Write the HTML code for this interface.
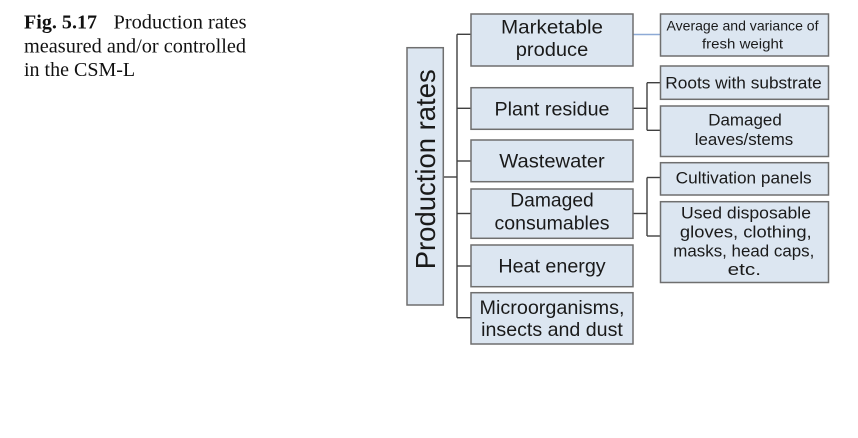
<!DOCTYPE html>
<html>
<head>
<meta charset="utf-8">
<style>
  html, body { margin: 0; padding: 0; background: #ffffff; }
  body { width: 858px; height: 438px; overflow: hidden; }
  svg { display: block; }
  .cap { font-family: "Liberation Serif", "Times New Roman", serif; font-size: 20px; fill: #111; }
  .lt { font-family: "Liberation Sans", Arial, sans-serif; font-size: 19.5px; fill: #1a1a1a; }
  .rt { font-family: "Liberation Sans", Arial, sans-serif; font-size: 17px; fill: #1a1a1a; }
  .box { fill: #dce6f1; stroke: #6f6f6f; stroke-width: 1.5; }
  .ln { stroke: #404040; stroke-width: 1.4; fill: none; }
</style>
</head>
<body>
<svg width="858" height="438" viewBox="0 0 858 438" xmlns="http://www.w3.org/2000/svg">
  <rect x="0" y="0" width="858" height="438" fill="#ffffff"/>

  <!-- Caption -->
  <text class="cap" x="24" y="28.5"><tspan font-weight="bold" textLength="73">Fig. 5.17</tspan></text>
  <text class="cap" x="113.5" y="28.5" textLength="133" lengthAdjust="spacingAndGlyphs">Production rates</text>
  <text class="cap" x="24" y="52.5" textLength="222" lengthAdjust="spacingAndGlyphs">measured and/or controlled</text>
  <text class="cap" x="24" y="76">in the CSM-L</text>

  <!-- Connectors -->
  <line class="ln" x1="443.3" y1="177" x2="457" y2="177" stroke-width="2"/>
  <line class="ln" x1="457" y1="34.3" x2="457" y2="317.7"/>
  <line class="ln" x1="457" y1="34.3" x2="471" y2="34.3" stroke="#7a7a7a"/>
  <line class="ln" x1="457" y1="108.3" x2="471" y2="108.3"/>
  <line class="ln" x1="457" y1="161" x2="471" y2="161" stroke="#6a6a6a"/>
  <line class="ln" x1="457" y1="213.5" x2="471" y2="213.5"/>
  <line class="ln" x1="457" y1="266" x2="471" y2="266" stroke="#8a8a8a"/>
  <line class="ln" x1="457" y1="317.7" x2="471" y2="317.7"/>

  <!-- Marketable -> Average -->
  <line x1="633" y1="34.5" x2="660.5" y2="34.5" stroke="#8eaad6" stroke-width="1.5"/>

  <!-- Plant residue branch -->
  <line class="ln" x1="633" y1="108.3" x2="647" y2="108.3"/>
  <line class="ln" x1="647" y1="82.7" x2="647" y2="130.3"/>
  <line class="ln" x1="647" y1="82.7" x2="661" y2="82.7"/>
  <line class="ln" x1="647" y1="130.3" x2="661" y2="130.3"/>

  <!-- Damaged consumables branch -->
  <line class="ln" x1="633" y1="213.5" x2="647" y2="213.5"/>
  <line class="ln" x1="647" y1="177.5" x2="647" y2="236"/>
  <line class="ln" x1="647" y1="177.5" x2="661" y2="177.5"/>
  <line class="ln" x1="647" y1="236" x2="661" y2="236"/>

  <!-- Production rates box -->
  <rect class="box" x="407" y="47.7" width="36.3" height="257.3"/>
  <text class="lt" transform="translate(435,169.3) rotate(-90)" text-anchor="middle" style="font-size:27.5px" textLength="200" lengthAdjust="spacingAndGlyphs">Production rates</text>

  <!-- Left column boxes -->
  <rect class="box" x="471" y="14" width="162" height="52"/>
  <text class="lt" x="552" y="33.5" text-anchor="middle" textLength="102" lengthAdjust="spacingAndGlyphs">Marketable</text>
  <text class="lt" x="552" y="56" text-anchor="middle" textLength="72.5" lengthAdjust="spacingAndGlyphs">produce</text>

  <rect class="box" x="471" y="87.7" width="162" height="41.6"/>
  <text class="lt" x="552" y="115.5" text-anchor="middle" textLength="115" lengthAdjust="spacingAndGlyphs">Plant residue</text>

  <rect class="box" x="471" y="140" width="162" height="41.7"/>
  <text class="lt" x="552" y="167.5" text-anchor="middle" textLength="105.5" lengthAdjust="spacingAndGlyphs">Wastewater</text>

  <rect class="box" x="471" y="189" width="162" height="49.3"/>
  <text class="lt" x="552" y="206.5" text-anchor="middle" textLength="83.5" lengthAdjust="spacingAndGlyphs">Damaged</text>
  <text class="lt" x="552" y="229.5" text-anchor="middle" textLength="115" lengthAdjust="spacingAndGlyphs">consumables</text>

  <rect class="box" x="471" y="245" width="162" height="41.7"/>
  <text class="lt" x="552" y="272.3" text-anchor="middle" textLength="107.3" lengthAdjust="spacingAndGlyphs">Heat energy</text>

  <rect class="box" x="471" y="292.7" width="162" height="51.3"/>
  <text class="lt" x="552" y="314" text-anchor="middle" textLength="145" lengthAdjust="spacingAndGlyphs">Microorganisms,</text>
  <text class="lt" x="552" y="336" text-anchor="middle" textLength="141.7" lengthAdjust="spacingAndGlyphs">insects and dust</text>

  <!-- Right column boxes -->
  <rect class="box" x="660.5" y="14" width="168" height="42"/>
  <text class="rt" x="742.5" y="30.5" text-anchor="middle" style="font-size:14px" textLength="152" lengthAdjust="spacingAndGlyphs">Average and variance of</text>
  <text class="rt" x="742.5" y="48.5" text-anchor="middle" style="font-size:14px" textLength="81" lengthAdjust="spacingAndGlyphs">fresh weight</text>

  <rect class="box" x="660.5" y="66" width="168" height="33.3"/>
  <text class="rt" x="743.5" y="88.3" text-anchor="middle" textLength="156.5" lengthAdjust="spacingAndGlyphs">Roots with substrate</text>

  <rect class="box" x="660.5" y="106" width="168" height="50.5"/>
  <text class="rt" x="745" y="125.5" text-anchor="middle" textLength="73.5" lengthAdjust="spacingAndGlyphs">Damaged</text>
  <text class="rt" x="744" y="145" text-anchor="middle" textLength="98.5" lengthAdjust="spacingAndGlyphs">leaves/stems</text>

  <rect class="box" x="660.5" y="162.7" width="168" height="32.3"/>
  <text class="rt" x="743.7" y="183.3" text-anchor="middle" textLength="136" lengthAdjust="spacingAndGlyphs">Cultivation panels</text>

  <rect class="box" x="660.5" y="201.7" width="168" height="80.8"/>
  <text class="rt" x="746" y="218.3" text-anchor="middle" textLength="130" lengthAdjust="spacingAndGlyphs">Used disposable</text>
  <text class="rt" x="745.8" y="237.3" text-anchor="middle" textLength="131.7" lengthAdjust="spacingAndGlyphs">gloves, clothing,</text>
  <text class="rt" x="743.8" y="256.5" text-anchor="middle" textLength="141" lengthAdjust="spacingAndGlyphs">masks, head caps,</text>
  <text class="rt" x="744.3" y="275" text-anchor="middle" textLength="33.3" lengthAdjust="spacingAndGlyphs">etc.</text>
</svg>
</body>
</html>
